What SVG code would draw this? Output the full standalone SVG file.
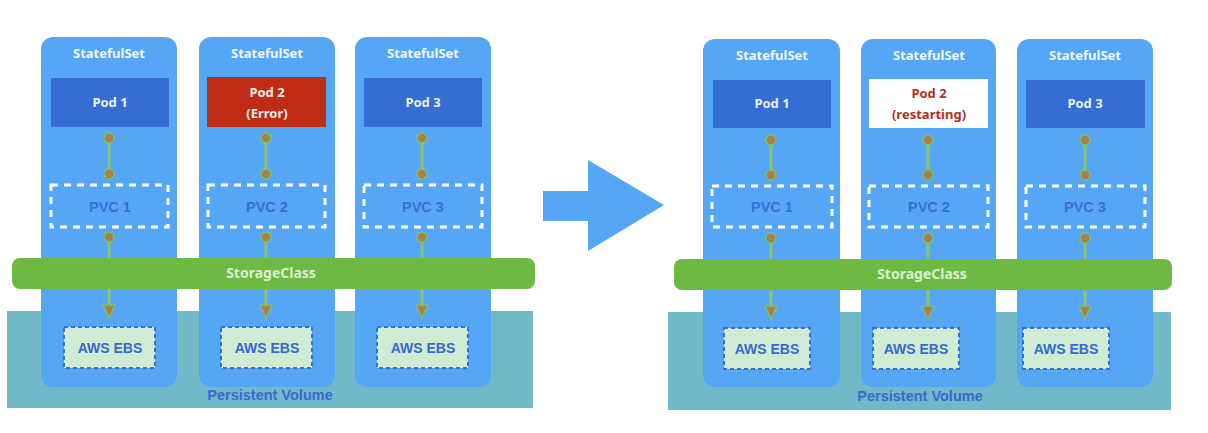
<svg xmlns="http://www.w3.org/2000/svg" width="1208" height="433" viewBox="0 0 1208 433">
<defs>
<style>
.col{fill:#56a6f6}
.pv{fill:#71b8c9}
.sc{fill:#6eb944}
.pod{fill:#366dd2}
.err{fill:#bf2c16}
.rst{fill:#ffffff}
.pvc{fill:none;stroke:#ffffff;stroke-width:3;stroke-dasharray:7 6}
.ebs{fill:#d0ebd4;stroke:#3b6fd0;stroke-width:2;stroke-dasharray:4 3}
.t-ss{font-family:"Noto Sans","Open Sans",sans-serif;font-weight:bold;font-size:13px;fill:#eef6ff;text-anchor:middle}
.t-pod{font-family:"Noto Sans","Open Sans",sans-serif;font-weight:bold;font-size:13px;fill:#e6f2e6;text-anchor:middle}
.t-rst{font-family:"Noto Sans","Open Sans",sans-serif;font-weight:bold;font-size:13px;fill:#b52d1c;text-anchor:middle}
.t-pvc{font-family:"Liberation Sans",Arial,sans-serif;font-weight:bold;font-size:14.5px;fill:#3a6fd4;text-anchor:middle}
.t-ebs{font-family:"Liberation Sans",Arial,sans-serif;font-weight:bold;font-size:14px;fill:#3569cc;text-anchor:middle}
.t-sc{font-family:"Noto Sans","Open Sans",sans-serif;font-weight:bold;font-size:14px;fill:#d9f0d2;text-anchor:middle}
.t-pv{font-family:"Liberation Sans",Arial,sans-serif;font-weight:bold;font-size:14.5px;fill:#3b68d0;text-anchor:middle}
.ln{stroke:#86c46e;stroke-width:3;fill:none}
.dot{fill:#a8804f;stroke:#7fbf68;stroke-width:1.5}
.ah{fill:#a8804f;stroke:#7fbf68;stroke-width:1.5}
</style>
</defs>

<!-- Left panel -->
<g id="left-pv">
<rect class="pv" x="7" y="311" width="526" height="97"/>
<text class="t-pv" x="270" y="400">Persistent Volume</text>
</g>
<g id="left-ss1"><rect class="col" x="41" y="37" width="136" height="350" rx="12"/><text class="t-ss" x="109" y="58">StatefulSet</text></g>
<g id="left-ss2"><rect class="col" x="199" y="37" width="136" height="350" rx="12"/><text class="t-ss" x="267" y="58">StatefulSet</text></g>
<g id="left-ss3"><rect class="col" x="355" y="37" width="136" height="350" rx="12"/><text class="t-ss" x="423" y="58">StatefulSet</text></g>
<g id="left-sc"><rect class="sc" x="12" y="258" width="523" height="31" rx="8"/><text class="t-sc" x="271" y="278">StorageClass</text></g>
<g id="left-pod1"><rect class="pod" x="51" y="78" width="118" height="49"/><text class="t-pod" x="110" y="107">Pod 1</text></g>
<g id="left-pod2"><rect class="err" x="207" y="77" width="119" height="50"/><text class="t-pod" x="267" y="97">Pod 2</text><text class="t-pod" x="267" y="118">(Error)</text></g>
<g id="left-pod3"><rect class="pod" x="364" y="78" width="118" height="49"/><text class="t-pod" x="423" y="107">Pod 3</text></g>
<g id="left-pvc1"><rect class="pvc" x="51" y="185" width="117" height="42"/><text class="t-pvc" x="110" y="212">PVC 1</text></g>
<g id="left-pvc2"><rect class="pvc" x="208" y="185" width="117" height="42"/><text class="t-pvc" x="267" y="212">PVC 2</text></g>
<g id="left-pvc3"><rect class="pvc" x="364" y="185" width="118" height="42"/><text class="t-pvc" x="423" y="212">PVC 3</text></g>
<g id="left-ebs1"><rect class="ebs" x="64" y="327" width="91" height="41"/><text class="t-ebs" x="110" y="353">AWS EBS</text></g>
<g id="left-ebs2"><rect class="ebs" x="221" y="327" width="91" height="41"/><text class="t-ebs" x="267" y="353">AWS EBS</text></g>
<g id="left-ebs3"><rect class="ebs" x="377" y="327" width="91" height="41"/><text class="t-ebs" x="423" y="353">AWS EBS</text></g>

<!-- Right panel -->
<g id="right-pv">
<rect class="pv" x="668" y="312" width="503" height="98"/>
<text class="t-pv" x="920" y="401">Persistent Volume</text>
</g>
<g id="right-ss1"><rect class="col" x="703" y="39" width="137" height="348" rx="12"/><text class="t-ss" x="772" y="60">StatefulSet</text></g>
<g id="right-ss2"><rect class="col" x="861" y="39" width="135" height="348" rx="12"/><text class="t-ss" x="929" y="60">StatefulSet</text></g>
<g id="right-ss3"><rect class="col" x="1017" y="39" width="136" height="348" rx="12"/><text class="t-ss" x="1085" y="60">StatefulSet</text></g>
<g id="right-sc"><rect class="sc" x="674" y="259" width="498" height="31" rx="8"/><text class="t-sc" x="922" y="279">StorageClass</text></g>
<g id="right-pod1"><rect class="pod" x="713" y="80" width="118" height="48"/><text class="t-pod" x="772" y="108">Pod 1</text></g>
<g id="right-pod2"><rect class="rst" x="869" y="79" width="119" height="49"/><text class="t-rst" x="929" y="98">Pod 2</text><text class="t-rst" x="929" y="119">(restarting)</text></g>
<g id="right-pod3"><rect class="pod" x="1026" y="80" width="119" height="48"/><text class="t-pod" x="1085" y="108">Pod 3</text></g>
<g id="right-pvc1"><rect class="pvc" x="712" y="186" width="120" height="41"/><text class="t-pvc" x="772" y="212">PVC 1</text></g>
<g id="right-pvc2"><rect class="pvc" x="869" y="186" width="119" height="41"/><text class="t-pvc" x="929" y="212">PVC 2</text></g>
<g id="right-pvc3"><rect class="pvc" x="1026" y="186" width="119" height="41"/><text class="t-pvc" x="1085" y="212">PVC 3</text></g>
<g id="right-ebs1"><rect class="ebs" x="724" y="328" width="86" height="41"/><text class="t-ebs" x="767" y="354">AWS EBS</text></g>
<g id="right-ebs2"><rect class="ebs" x="873" y="328" width="86" height="41"/><text class="t-ebs" x="916" y="354">AWS EBS</text></g>
<g id="right-ebs3"><rect class="ebs" x="1023" y="328" width="86" height="41"/><text class="t-ebs" x="1066" y="354">AWS EBS</text></g>

<!-- Transition arrow -->
<g id="transition-arrow">
<polygon points="543,191 588,191 588,160 664,205 588,251 588,221 543,221" fill="#56a6f6"/>
</g>

<!-- Connectors -->
<g id="connectors">
<line class="ln" x1="109" y1="138" x2="109" y2="174"/><circle class="dot" cx="109" cy="138" r="5"/><circle class="dot" cx="109" cy="174" r="5"/>
<line class="ln" x1="109" y1="237" x2="109" y2="258"/><circle class="dot" cx="109" cy="237" r="5"/>
<line class="ln" x1="109" y1="289" x2="109" y2="306"/><polygon class="ah" points="103,305 115,305 109,318"/>
<line class="ln" x1="266" y1="138" x2="266" y2="174"/><circle class="dot" cx="266" cy="138" r="5"/><circle class="dot" cx="266" cy="174" r="5"/>
<line class="ln" x1="266" y1="237" x2="266" y2="258"/><circle class="dot" cx="266" cy="237" r="5"/>
<line class="ln" x1="266" y1="289" x2="266" y2="306"/><polygon class="ah" points="260,305 272,305 266,318"/>
<line class="ln" x1="422" y1="138" x2="422" y2="174"/><circle class="dot" cx="422" cy="138" r="5"/><circle class="dot" cx="422" cy="174" r="5"/>
<line class="ln" x1="422" y1="237" x2="422" y2="258"/><circle class="dot" cx="422" cy="237" r="5"/>
<line class="ln" x1="422" y1="289" x2="422" y2="306"/><polygon class="ah" points="416,305 428,305 422,318"/>
<line class="ln" x1="771" y1="140" x2="771" y2="175"/><circle class="dot" cx="771" cy="140" r="5"/><circle class="dot" cx="771" cy="175" r="5"/>
<line class="ln" x1="771" y1="238" x2="771" y2="259"/><circle class="dot" cx="771" cy="238" r="5"/>
<line class="ln" x1="771" y1="290" x2="771" y2="307"/><polygon class="ah" points="765,306 777,306 771,319"/>
<line class="ln" x1="928" y1="140" x2="928" y2="175"/><circle class="dot" cx="928" cy="140" r="5"/><circle class="dot" cx="928" cy="175" r="5"/>
<line class="ln" x1="928" y1="238" x2="928" y2="259"/><circle class="dot" cx="928" cy="238" r="5"/>
<line class="ln" x1="928" y1="290" x2="928" y2="307"/><polygon class="ah" points="922,306 934,306 928,319"/>
<line class="ln" x1="1085" y1="140" x2="1085" y2="175"/><circle class="dot" cx="1085" cy="140" r="5"/><circle class="dot" cx="1085" cy="175" r="5"/>
<line class="ln" x1="1085" y1="238" x2="1085" y2="259"/><circle class="dot" cx="1085" cy="238" r="5"/>
<line class="ln" x1="1085" y1="290" x2="1085" y2="307"/><polygon class="ah" points="1079,306 1091,306 1085,319"/>
</g>
</svg>
